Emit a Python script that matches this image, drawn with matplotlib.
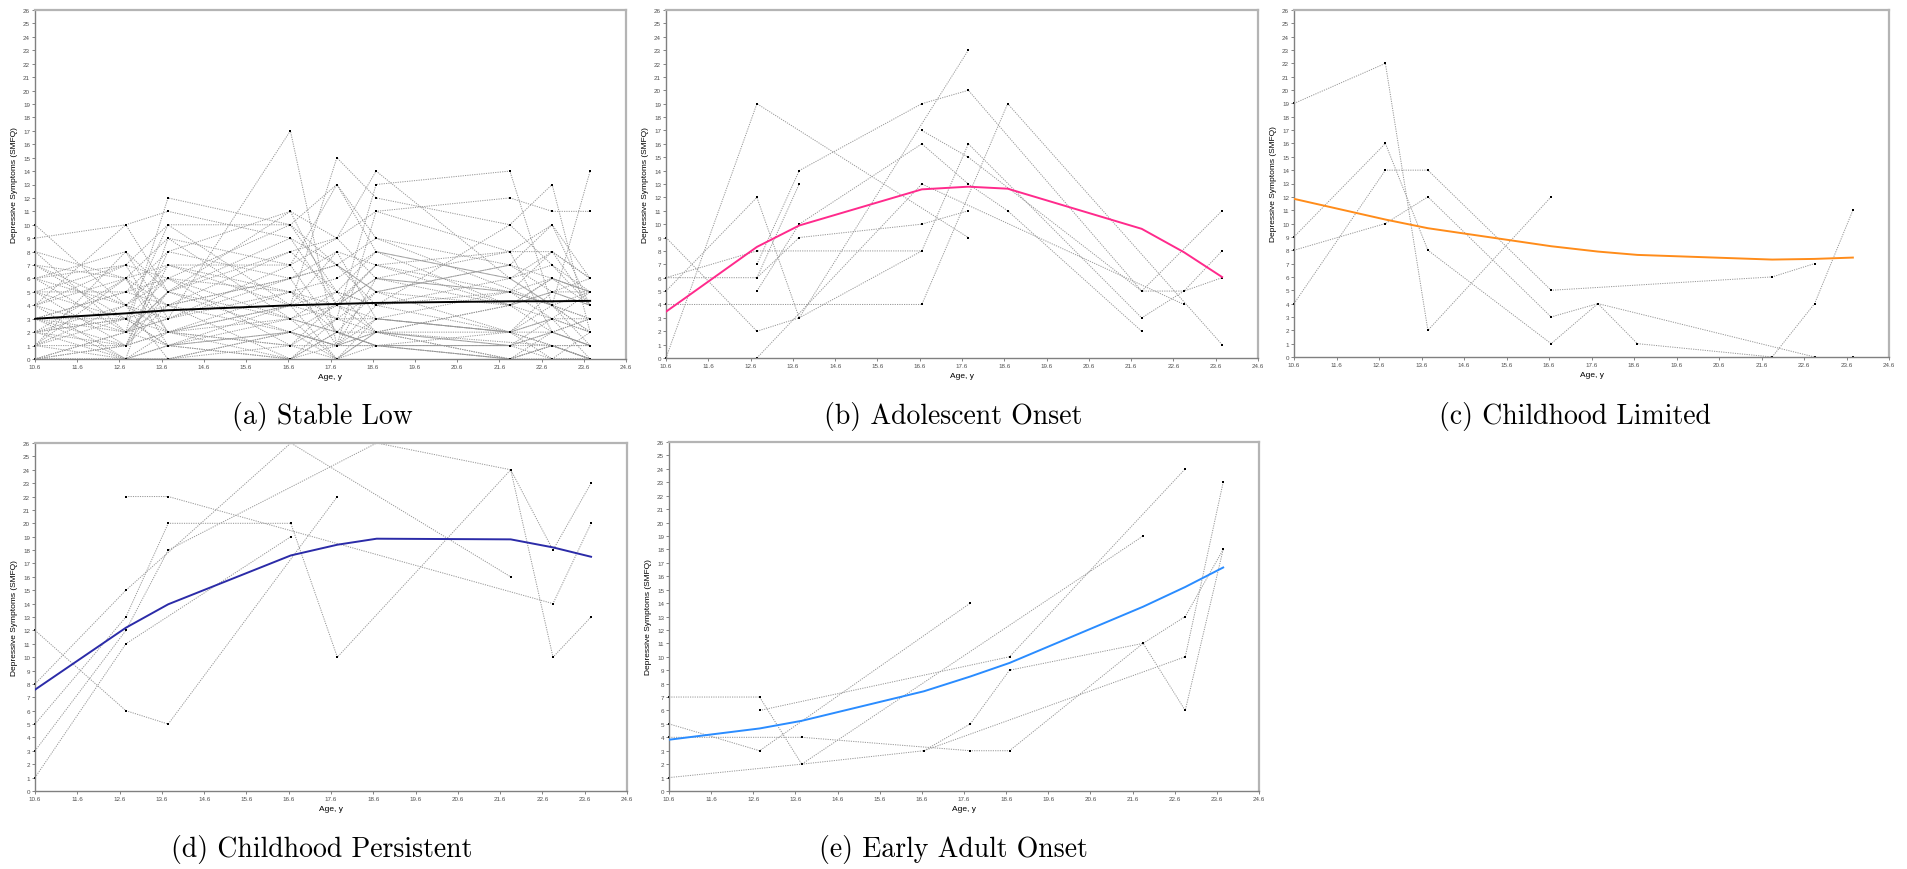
import numpy as np
import matplotlib
matplotlib.use("Agg")
import matplotlib.pyplot as plt

W, H = 1907, 870
N = None

# measurement waves (age, years)
wave_ages = [10.6, 12.75, 13.75, 16.65, 17.75, 18.68, 21.85, 22.85, 23.75]
x_ticks = [10.6, 11.6, 12.6, 13.6, 14.6, 15.6, 16.6, 17.6, 18.6, 19.6, 20.6, 21.6, 22.6, 23.6, 24.6]
y_ticks = list(range(0, 27))

# class mean trajectories
mean_stable_low = [3.0, 3.4, 3.63, 4.0, 4.1, 4.18, 4.3, 4.3, 4.33]
mean_adolescent = [3.46, 8.3, 9.9, 12.6, 12.8, 12.65, 9.65, 7.9, 6.05]
mean_child_limited = [11.85, 10.3, 9.65, 8.3, 7.9, 7.65, 7.3, 7.35, 7.45]
mean_child_persistent = [7.57, 12.2, 13.95, 17.6, 18.4, 18.85, 18.8, 18.2, 17.5]
mean_early_adult = [3.82, 4.66, 5.23, 7.43, 8.53, 9.54, 13.73, 15.2, 16.65]

# individual observed trajectories (None = missed wave)
indiv_stable_low = [
    [10, 4, 2, 1, N, 1, 0, 1, 0],
    [9, 10, 5, 2, 1, 2, N, 1, 0],
    [8, 6, 7, 4, 5, 8, 6, 4, 3],
    [7, 6, 4, 6, 8, 7, 5, 4, 5],
    [6, 2, 12, 10, 7, 4, 2, 3, 2],
    [6, 8, 3, 5, 4, 6, 8, 8, 6],
    [5, 3, 10, 10, 13, 9, 7, 10, 4],
    [5, 1, 2, 0, 2, 1, 0, 2, 1],
    [4, 7, 6, 3, 2, 5, 4, 6, 5],
    [4, 0, 1, 2, 4, 3, 2, 1, 0],
    [3, 5, 8, 11, 9, 14, 6, 4, 14],
    [3, 2, 3, 17, 1, 2, 4, 5, 6],
    [2, 4, 6, 5, 3, 13, 14, 4, 2],
    [2, 0, 0, 1, 0, 1, 1, 0, 0],
    [1, 3, 2, 4, 15, 12, 10, 13, 2],
    [1, 1, 4, 6, 7, 5, 2, 5, 4],
    [0, 2, 1, 0, 3, 2, 1, 3, 0],
    [0, 1, 5, 8, 5, 4, 6, 7, 5],
    [0, 0, 1, 3, 0, 2, 0, 1, 1],
    [2, 6, 9, 7, 9, 11, 12, 11, 11],
    [4, 10, 11, 9, 4, 6, 5, 8, 4],
    [3, 5, 4, 2, 1, 3, 2, 2, 3],
    [1, 0, 2, 5, 2, 1, 0, 1, 1],
    [6, 4, 7, 7, 13, 8, 4, 6, 5],
    [3, 3, 6, 1, N, 7, 8, 10, 6],
    [0, 2, 3, 6, 7, 9, N, 4, 3],
    [5, 7, 10, 4, 8, 3, 2, 0, 0],
    [7, 3, 1, 0, 1, 4, 5, 3, 2],
    [2, 1, 2, 3, 2, 1, 1, 2, 1],
    [1, 8, 5, 11, 4, 2, 2, 1, 0],
    [4, 6, 2, 4, 3, 5, 7, 6, 4],
    [N, 2, 4, 8, 9, 6, 4, 3, 5],
    [0, 0, 0, 2, 1, 1, 1, 2, 1],
    [5, 5, 6, 10, 5, 4, 10, 7, 4],
    [2, 3, 1, 2, 0, 2, 1, 1, 0],
    [3, 1, 8, 6, 1, 11, 8, 2, 3],
    [8, 2, 5, 3, 4, 7, 4, 5, 5],
    [1, 4, 3, 7, 2, 1, 2, 4, 2],
    [6, 7, 2, 1, 3, 3, 5, 4, 1],
    [0, 1, 7, 5, 6, 8, 6, 8, 6],
    [2, 3, 4, 0, 2, 2, 0, 0, 2],
    [4, 2, 5, 9, 7, 5, 7, 5, 4],
    [1, 6, 1, 4, 0, 3, 2, 3, 3],
    [3, 0, 9, 3, 5, 2, 4, 2, 1],
    [7, 4, 0, 2, 1, 6, 5, 6, 5],
]

indiv_adolescent = [
    [9, 2, 3, 8, 16, N, 3, 5, 8],
    [6, 6, 13, N, N, N, N, N, N],
    [0, 19, N, N, 9, N, N, N, N],
    [5, 12, 3, N, 23, N, N, N, N],
    [4, N, N, 4, N, 19, N, N, 1],
    [6, 8, N, 8, N, N, N, N, N],
    [N, 0, N, 13, N, N, N, 4, N],
    [N, 5, 10, 16, 13, 11, 2, N, N],
    [N, 7, 14, 19, 20, N, 5, 5, 6],
    [N, 6, 9, 10, 11, N, N, N, N],
    [N, N, N, 17, 15, N, 5, N, 11],
]

indiv_child_limited = [
    [19, 22, 2, 12, N, N, N, N, N],
    [9, 16, 8, 1, 4, N, N, 0, N],
    [4, 14, 14, 5, N, N, 6, 7, N],
    [8, 10, 12, 3, 4, 1, 0, 4, 11],
    [N, N, N, N, N, N, N, N, 0],
]

indiv_child_persistent = [
    [12, 6, 5, N, 22, N, N, N, N],
    [8, 15, N, 26, N, N, 16, N, N],
    [5, 13, 20, 20, 10, N, 24, 10, 13],
    [3, 12, 18, N, N, 26, 24, 18, 23],
    [1, 11, N, 19, N, N, N, N, N],
    [N, 22, 22, N, N, N, N, 14, 20],
    [5, N, N, N, N, N, N, N, N],
]

indiv_early_adult = [
    [7, 7, 2, N, N, N, 19, N, N],
    [5, 3, N, N, 14, N, N, N, N],
    [4, N, 4, N, 3, 3, 11, 6, 18],
    [1, N, 2, 3, N, N, N, 10, 23],
    [N, 6, N, N, N, 10, N, 24, N],
    [N, N, N, 3, 5, 9, 11, 13, 18],
]

panels = [
    # data, mean, colour, caption, (left, top, right, bottom) px, caption xy px
    (indiv_stable_low, mean_stable_low, "#000000", "(a) Stable Low", (35, 11, 626, 360), (322, 417)),
    (indiv_adolescent, mean_adolescent, "#ff2a8c", "(b) Adolescent Onset", (666, 11, 1258, 359), (953, 417)),
    (indiv_child_limited, mean_child_limited, "#ff8c1a", "(c) Childhood Limited", (1294, 11, 1889, 358), (1575, 417)),
    (indiv_child_persistent, mean_child_persistent, "#2b2ba8", "(d) Childhood Persistent", (35, 444, 627, 792), (322, 850)),
    (indiv_early_adult, mean_early_adult, "#2a8cff", "(e) Early Adult Onset", (669, 443, 1259, 792), (953, 850)),
]

fig = plt.figure(figsize=(W / 100, H / 100), dpi=100)
fig.patch.set_facecolor("white")

for indiv, mean, colour, caption, box, cap_xy in panels:
    l, t, r, b = box
    ax = fig.add_axes([l / W, 1 - b / H, (r - l) / W, (b - t) / H])

    for traj in indiv:
        xs = [a for a, v in zip(wave_ages, traj) if v is not None]
        ys = [v for v in traj if v is not None]
        ax.plot(xs, ys, linestyle=(0, (1.2, 1.2)), linewidth=0.7, color="#959595",
                marker="s", markersize=1.6, markerfacecolor="black",
                markeredgewidth=0, clip_on=False, zorder=2)

    ax.plot(wave_ages, mean, color=colour, linewidth=1.4, zorder=3)

    ax.set_xlim(10.6, 24.6)
    ax.set_ylim(0, 26)
    ax.set_xticks(x_ticks)
    ax.set_xticklabels([f"{v:.1f}" for v in x_ticks])
    ax.set_yticks(y_ticks)
    ax.tick_params(axis="both", length=2, width=0.6, color="#707070",
                   labelsize=4.5, labelcolor="#505050", pad=1.5)
    for lab in ax.get_xticklabels() + ax.get_yticklabels():
        lab.set_family("Liberation Sans")

    for side in ["left", "bottom"]:
        ax.spines[side].set_color("#808080")
        ax.spines[side].set_linewidth(1.0)
    for side in ["top", "right"]:
        ax.spines[side].set_color("#b4b4b4")
        ax.spines[side].set_linewidth(1.6)

    ax.set_ylabel("Depressive Symptoms (SMFQ)", fontsize=6, family="Liberation Sans", labelpad=4)
    ax.set_xlabel("Age, y", fontsize=6, family="Liberation Sans", labelpad=3)

    fig.text(cap_xy[0] / W, 1 - cap_xy[1] / H, caption, fontsize=20, family="cmr10",
             ha="center", va="center")

fig.savefig("out.png", dpi=100, facecolor="white")
